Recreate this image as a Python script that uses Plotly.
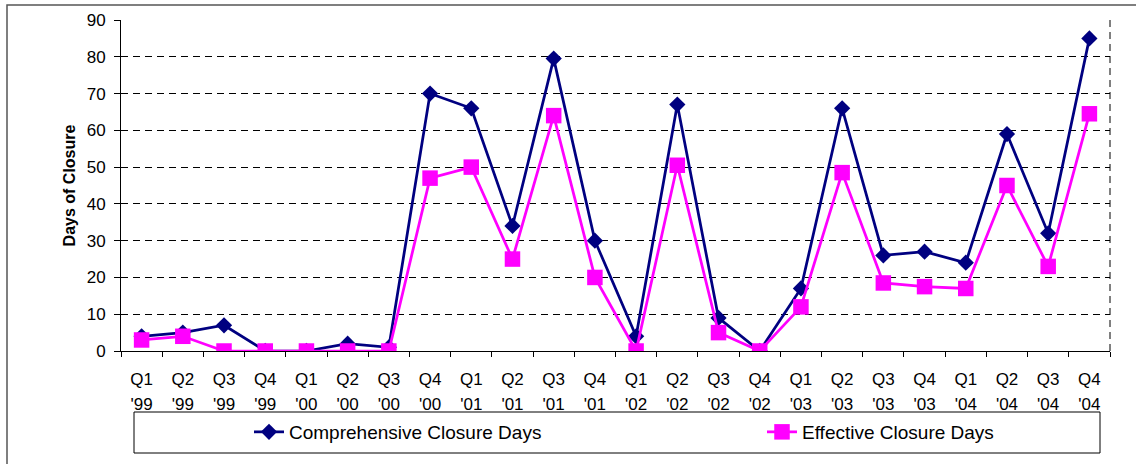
import plotly.graph_objects as go

quarters = ["Q1", "Q2", "Q3", "Q4"] * 6
years = ["'99"] * 4 + ["'00"] * 4 + ["'01"] * 4 + ["'02"] * 4 + ["'03"] * 4 + ["'04"] * 4
categories = [f"{q} {y}" for q, y in zip(quarters, years)]

comprehensive = [4, 5, 7, 0, 0, 2, 1, 70, 66, 34, 79.5, 30, 4, 67, 9, 0, 17, 66, 26, 27, 24, 59, 32, 85]
effective = [3, 4, 0, 0, 0, 0, 0, 47, 50, 25, 64, 20, 0, 50.5, 5, 0, 12, 48.5, 18.5, 17.5, 17, 45, 23, 64.5]

y_ticks = list(range(0, 91, 10))

W, H = 1136, 464
L, R, T, B = 121, 1110, 20, 351
pw, ph = R - L, B - T

def px(x):
    return (x - L) / pw

def py(y):
    return (B - y) / ph

font = "Liberation Sans, Arial, sans-serif"
NAVY = "#000080"
MAGENTA = "#FF00FF"

fig = go.Figure()
fig.add_trace(go.Scatter(
    x=categories, y=comprehensive, name="Comprehensive Closure Days",
    mode="lines+markers",
    line=dict(color=NAVY, width=2.75),
    marker=dict(symbol="diamond", size=12.5, color=NAVY),
    legend="legend",
))
fig.add_trace(go.Scatter(
    x=categories, y=effective, name="Effective Closure Days",
    mode="lines+markers",
    line=dict(color=MAGENTA, width=2.75),
    marker=dict(symbol="square", size=15.5, color=MAGENTA),
    xaxis="x2",
    legend="legend2",
))

leg_common = dict(
    orientation="h", yanchor="middle", xanchor="left",
    font=dict(size=19, family=font, color="black"),
    bgcolor="rgba(0,0,0,0)", borderwidth=0,
)

fig.update_layout(
    width=W, height=H,
    margin=dict(l=L, r=W - R, t=T, b=H - B, pad=0, autoexpand=False),
    paper_bgcolor="white", plot_bgcolor="white",
    font=dict(family=font, size=17, color="black"),
    showlegend=True,
    legend=dict(x=px(249), y=py(432), **leg_common),
    legend2=dict(x=px(762), y=py(432), **leg_common),
    xaxis=dict(
        type="category", categoryorder="array", categoryarray=categories,
        range=[-0.5, 23.5], autorange=False,
        tickvals=categories, ticktext=quarters,
        showline=True, linecolor="black", linewidth=1,
        ticks="outside", tickson="boundaries", ticklen=5, tickcolor="black",
        showgrid=False, zeroline=False, automargin=False,
        tickfont=dict(size=17, family=font),
        ticklabelstandoff=13,
    ),
    xaxis2=dict(
        type="category", categoryorder="array", categoryarray=categories,
        range=[-0.5, 23.5], autorange=False,
        overlaying="x", anchor="y", side="bottom",
        tickvals=categories, ticktext=years,
        showline=False, ticks="", showgrid=False, zeroline=False, automargin=False,
        tickfont=dict(size=17, family=font),
        ticklabelstandoff=41,
    ),
    yaxis=dict(
        range=[0, 90], autorange=False, tickvals=y_ticks,
        showline=True, linecolor="black", linewidth=1,
        ticks="outside", ticklen=6, tickcolor="black",
        showgrid=True, gridcolor="black", gridwidth=1, griddash="7px,5px",
        zeroline=False, automargin=False,
        tickfont=dict(size=17, family=font),
        ticklabelstandoff=5,
        title=dict(text="<b>Days of Closure</b>", font=dict(size=16, family=font), standoff=7),
    ),
    shapes=[
        # outer chart border
        dict(type="rect", xref="paper", yref="paper",
             x0=px(7), x1=px(1150), y0=py(480), y1=py(5),
             line=dict(color="#555555", width=1.5), fillcolor="rgba(0,0,0,0)", layer="below"),
        # dashed right plot border
        dict(type="line", xref="paper", yref="paper", x0=1, x1=1, y0=0, y1=1,
             line=dict(color="black", width=1, dash="7px,5px")),
        # legend box
        dict(type="rect", xref="paper", yref="paper",
             x0=px(134), x1=px(1100), y0=py(453), y1=py(412),
             line=dict(color="black", width=1), fillcolor="rgba(0,0,0,0)"),
    ],
)

fig.write_html(
    "out.html",
    config={"displayModeBar": False},
    post_script="document.body.style.margin='0';document.body.style.padding='0';",
)
